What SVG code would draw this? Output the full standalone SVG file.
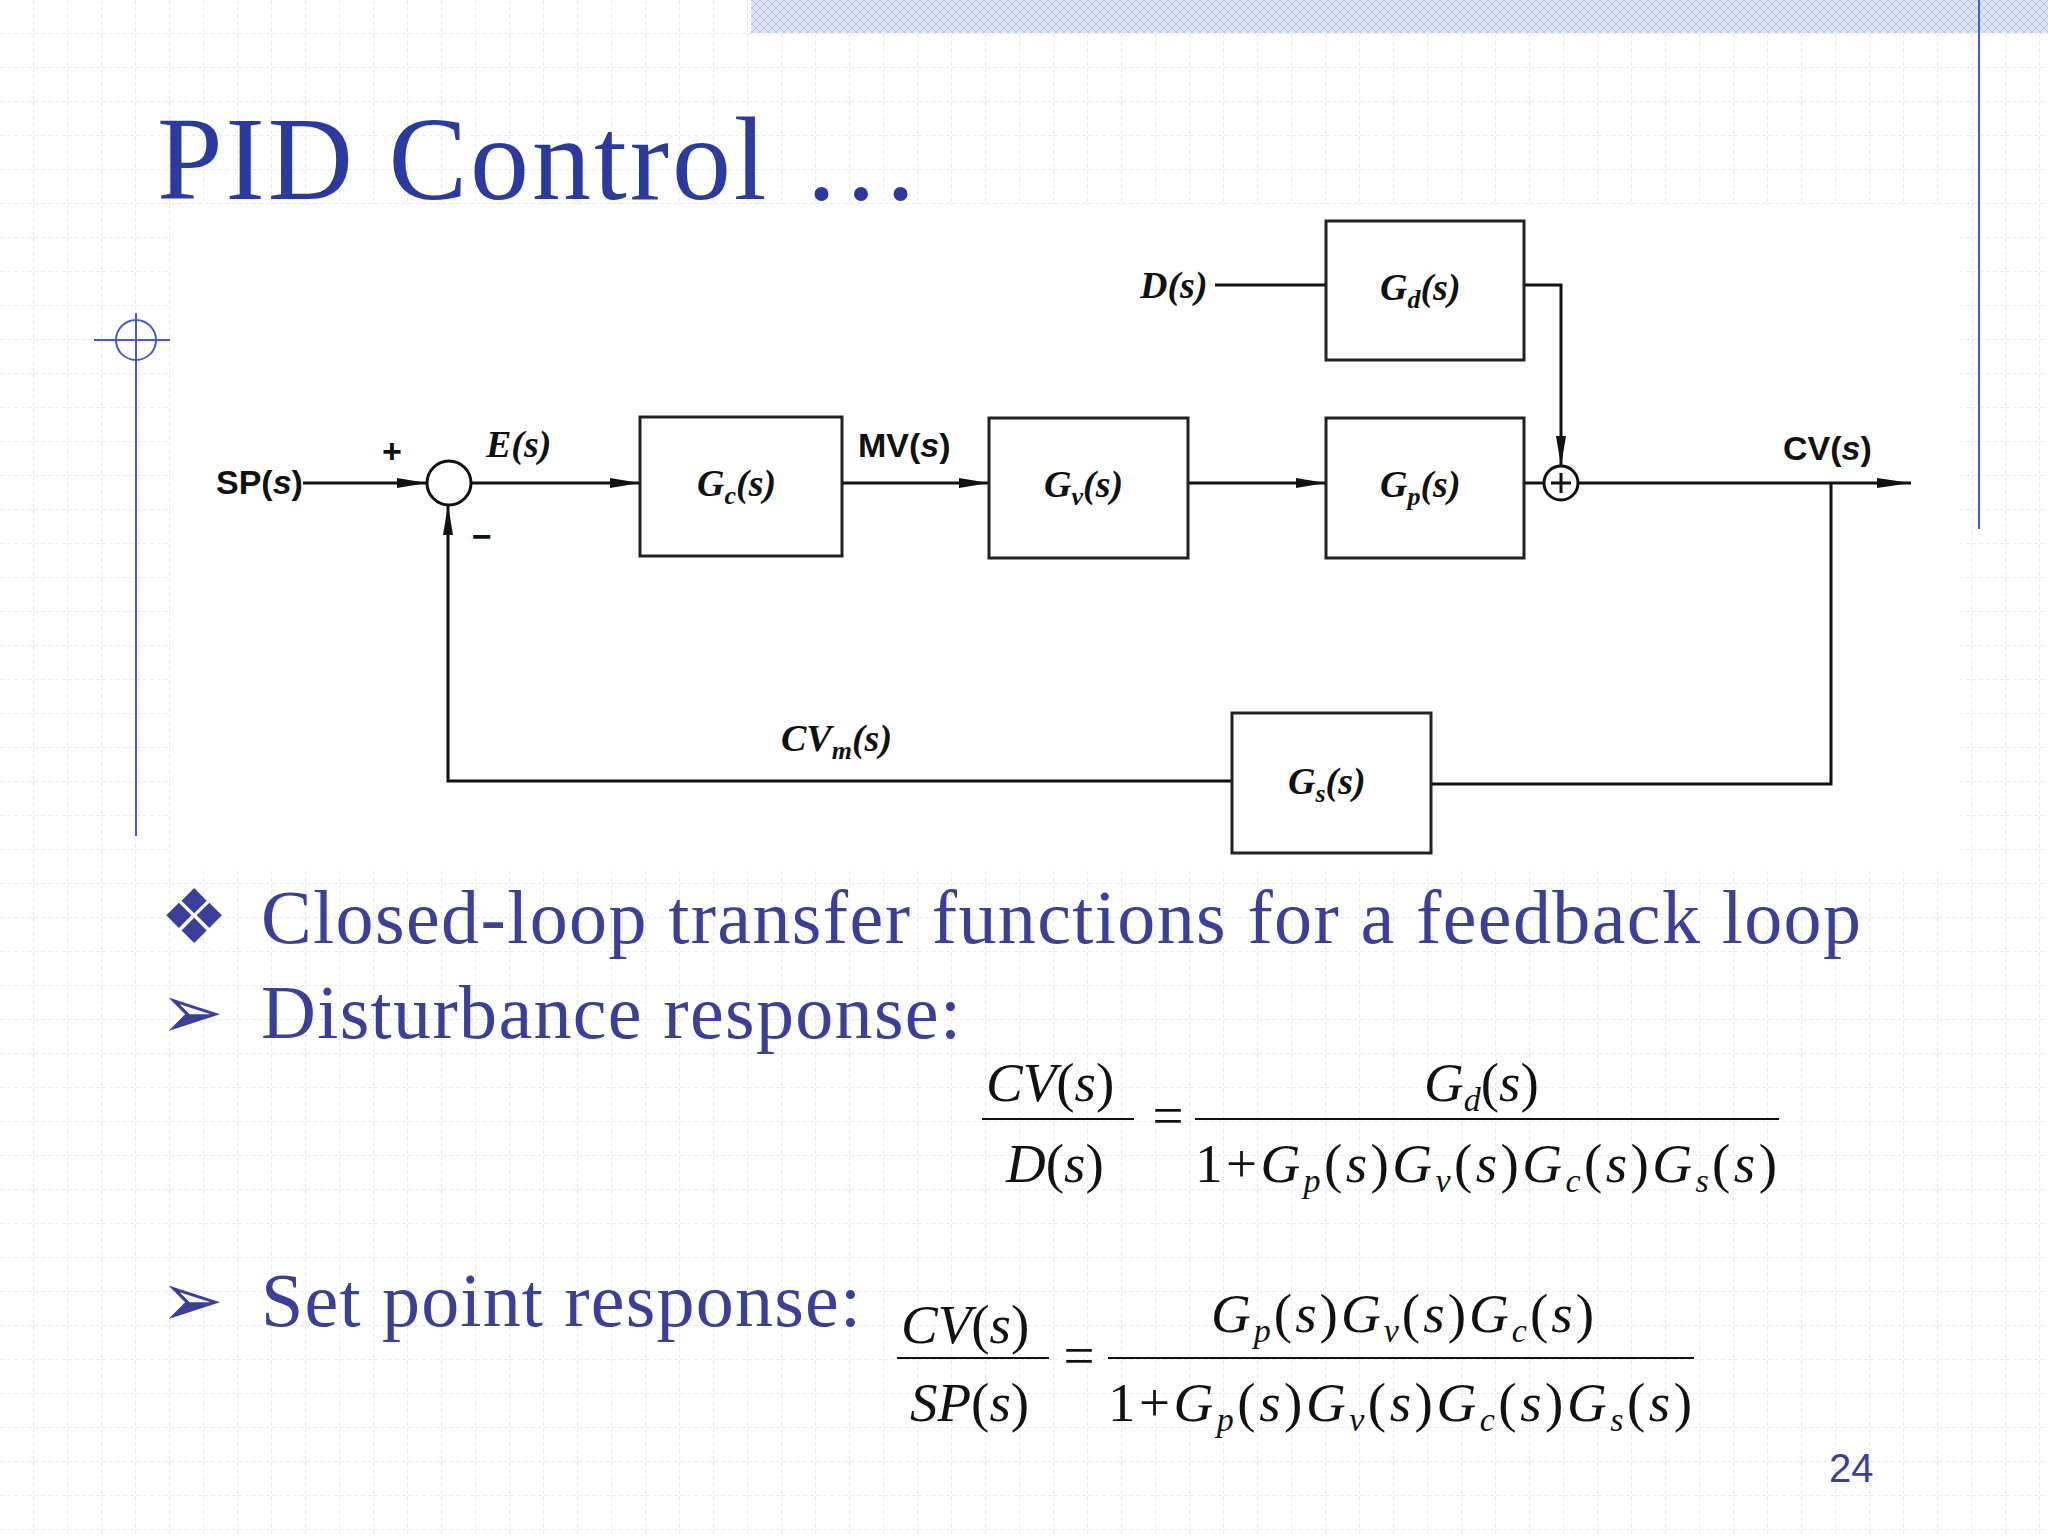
<svg xmlns="http://www.w3.org/2000/svg" width="2048" height="1536" viewBox="0 0 2048 1536">
<defs>
<pattern id="grid" width="34" height="34" patternUnits="userSpaceOnUse">
<path d="M34 0V34M0 34H34" fill="none" stroke="#dfe3ee" stroke-width="1.5" stroke-dasharray="4 3"/>
</pattern>
<pattern id="hatch" width="8" height="8" patternUnits="userSpaceOnUse">
<rect width="8" height="8" fill="#dde3f6"/><path d="M0 0L8 8M8 0L0 8" stroke="#b8c2ea" stroke-width="1"/>
</pattern>
<marker id="ar" markerWidth="30" markerHeight="12" refX="30" refY="6" orient="auto" markerUnits="userSpaceOnUse">
<path d="M0 1L30 6L0 11Z" fill="#111"/>
</marker>
<marker id="arb" markerWidth="34" markerHeight="12" refX="34" refY="6" orient="auto" markerUnits="userSpaceOnUse">
<path d="M0 1L34 6L0 11Z" fill="#111"/>
</marker>
</defs>
<style>
.blk{fill:#fff;stroke:#222;stroke-width:3}
.lbl{font-family:"Liberation Serif",serif;font-style:italic;font-weight:bold;font-size:38px;fill:#111}
.sig{font-family:"Liberation Sans",sans-serif;font-weight:bold;font-size:34px;fill:#111}
.ln{fill:none;stroke:#111;stroke-width:3}
.bt{font-family:"Liberation Serif",serif;font-size:76px;fill:#3a3f9a}
.eq{font-family:"Liberation Serif",serif;font-style:italic;font-size:55px;fill:#111}
.fl{stroke:#111;stroke-width:2}
</style>
<rect width="2048" height="1536" fill="#fff"/>
<rect width="2048" height="1536" fill="url(#grid)"/>
<rect x="751" y="0" width="1297" height="33" fill="url(#hatch)"/>
<line x1="1979" y1="0" x2="1979" y2="529" stroke="#4a5ac8" stroke-width="2"/>
<line x1="136" y1="313" x2="136" y2="836" stroke="#4a5ac8" stroke-width="2"/>
<line x1="94" y1="340" x2="183" y2="340" stroke="#4a5ac8" stroke-width="2"/>
<circle cx="136" cy="340" r="20" fill="none" stroke="#4a5ac8" stroke-width="2"/>
<text x="157" y="199" font-family="Liberation Serif,serif" font-size="118" fill="#2b3a9e" textLength="763">PID Control …</text>
<rect x="170" y="205" width="1790" height="665" fill="#fff"/>

<g id="connectors">
<path class="ln" d="M303 483H427" marker-end="url(#ar)"/>
<path class="ln" d="M471 483H640" marker-end="url(#ar)"/>
<path class="ln" d="M842 483H989" marker-end="url(#ar)"/>
<path class="ln" d="M1188 483H1326" marker-end="url(#ar)"/>
<path class="ln" d="M1524 483H1544"/>
<path class="ln" d="M1578 483H1911" marker-end="url(#arb)"/>
<path class="ln" d="M1215 285H1326"/>
<path class="ln" d="M1524 285H1561V466" marker-end="url(#ar)"/>
<path class="ln" d="M1831 483V784H1431"/>
<path class="ln" d="M1232 781H448V505" marker-end="url(#ar)"/>
</g>
<g id="sum1"><circle cx="449" cy="483" r="22" fill="#fff" stroke="#111" stroke-width="3"/></g>
<g id="sum2"><circle cx="1561" cy="483" r="17" fill="#fff" stroke="#111" stroke-width="3"/><path d="M1551 483H1571M1561 473V493" stroke="#111" stroke-width="3"/></g>
<g id="Gd"><rect class="blk" x="1326" y="221" width="198" height="139"/><text class="lbl" x="1380" y="300">G<tspan font-size="26" dy="8">d</tspan><tspan dy="-8">(s)</tspan></text></g>
<g id="Gc"><rect class="blk" x="640" y="417" width="202" height="139"/><text class="lbl" x="697" y="496">G<tspan font-size="26" dy="8">c</tspan><tspan dy="-8">(s)</tspan></text></g>
<g id="Gv"><rect class="blk" x="989" y="418" width="199" height="140"/><text class="lbl" x="1044" y="497">G<tspan font-size="26" dy="8">v</tspan><tspan dy="-8">(s)</tspan></text></g>
<g id="Gp"><rect class="blk" x="1326" y="418" width="198" height="140"/><text class="lbl" x="1380" y="497">G<tspan font-size="26" dy="8">p</tspan><tspan dy="-8">(s)</tspan></text></g>
<g id="Gs"><rect class="blk" x="1232" y="713" width="199" height="140"/><text class="lbl" x="1288" y="794">G<tspan font-size="26" dy="8">s</tspan><tspan dy="-8">(s)</tspan></text></g>
<text class="sig" x="216" y="494">SP(<tspan font-style="italic">s</tspan>)</text>
<text class="sig" x="382" y="463">+</text>
<text class="sig" x="472" y="548">−</text>
<text class="lbl" x="486" y="457">E(s)</text>
<text class="sig" x="858" y="457">MV(<tspan font-style="italic">s</tspan>)</text>
<text class="sig" x="1783" y="460">CV(<tspan font-style="italic">s</tspan>)</text>
<text class="lbl" x="1140" y="298">D(s)</text>
<text class="lbl" x="781" y="751">CV<tspan font-size="26" dy="8">m</tspan><tspan dy="-8">(s)</tspan></text>

<text class="bt" x="160" y="943" font-size="60">❖</text>
<text class="bt" x="261" y="943" textLength="1600">Closed-loop transfer functions for a feedback loop</text>
<text class="bt" x="160" y="1038" font-size="60">➢</text>
<text class="bt" x="261" y="1038" textLength="700">Disturbance response:</text>
<text class="bt" x="160" y="1326" font-size="60">➢</text>
<text class="bt" x="261" y="1326" textLength="600">Set point response:</text>

<text class="eq" x="986" y="1101">CV<tspan font-style="normal">(</tspan>s<tspan font-style="normal">)</tspan></text>
<line class="fl" x1="982" y1="1119" x2="1134" y2="1119"/>
<text class="eq" x="1006" y="1182">D<tspan font-style="normal">(</tspan>s<tspan font-style="normal">)</tspan></text>
<text class="eq" x="1149" y="1134" font-style="normal">=</text>
<text class="eq" x="1424" y="1101">G<tspan font-size="34" dy="10">d</tspan><tspan dy="-10" font-style="normal">(</tspan>s<tspan font-style="normal">)</tspan></text>
<line class="fl" x1="1195" y1="1119" x2="1779" y2="1119"/>
<text class="eq" x="1195" y="1182" textLength="582"><tspan font-style="normal">1+</tspan>G<tspan font-size="34" dy="10">p</tspan><tspan dy="-10" font-style="normal">(</tspan>s<tspan font-style="normal">)</tspan>G<tspan font-size="34" dy="10">v</tspan><tspan dy="-10" font-style="normal">(</tspan>s<tspan font-style="normal">)</tspan>G<tspan font-size="34" dy="10">c</tspan><tspan dy="-10" font-style="normal">(</tspan>s<tspan font-style="normal">)</tspan>G<tspan font-size="34" dy="10">s</tspan><tspan dy="-10" font-style="normal">(</tspan>s<tspan font-style="normal">)</tspan></text>

<text class="eq" x="901" y="1343">CV<tspan font-style="normal">(</tspan>s<tspan font-style="normal">)</tspan></text>
<line class="fl" x1="897" y1="1358" x2="1049" y2="1358"/>
<text class="eq" x="910" y="1421">SP<tspan font-style="normal">(</tspan>s<tspan font-style="normal">)</tspan></text>
<text class="eq" x="1060" y="1374" font-style="normal">=</text>
<text class="eq" x="1211" y="1332" textLength="383">G<tspan font-size="34" dy="10">p</tspan><tspan dy="-10" font-style="normal">(</tspan>s<tspan font-style="normal">)</tspan>G<tspan font-size="34" dy="10">v</tspan><tspan dy="-10" font-style="normal">(</tspan>s<tspan font-style="normal">)</tspan>G<tspan font-size="34" dy="10">c</tspan><tspan dy="-10" font-style="normal">(</tspan>s<tspan font-style="normal">)</tspan></text>
<line class="fl" x1="1108" y1="1358" x2="1694" y2="1358"/>
<text class="eq" x="1108" y="1421" textLength="584"><tspan font-style="normal">1+</tspan>G<tspan font-size="34" dy="10">p</tspan><tspan dy="-10" font-style="normal">(</tspan>s<tspan font-style="normal">)</tspan>G<tspan font-size="34" dy="10">v</tspan><tspan dy="-10" font-style="normal">(</tspan>s<tspan font-style="normal">)</tspan>G<tspan font-size="34" dy="10">c</tspan><tspan dy="-10" font-style="normal">(</tspan>s<tspan font-style="normal">)</tspan>G<tspan font-size="34" dy="10">s</tspan><tspan dy="-10" font-style="normal">(</tspan>s<tspan font-style="normal">)</tspan></text>
<text x="1829" y="1482" font-family="Liberation Sans,sans-serif" font-size="40" fill="#3a3f9a">24</text>
</svg>
